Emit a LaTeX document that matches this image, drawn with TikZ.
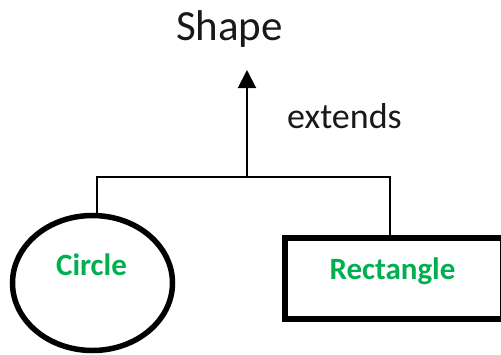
\documentclass[tikz,border=0pt]{standalone}
\usepackage{fontspec}
\setmainfont{Carlito}
\usetikzlibrary{shapes.geometric,arrows.meta}
\definecolor{wordgreen}{RGB}{0,176,80}
\tikzset{
  conn/.style={line width=2pt, draw=black},
  greentext/.style={font=\fontsize{31}{36}\selectfont\bfseries, text=wordgreen, inner sep=0pt, anchor=base},
  plaintext/.style={font=\fontsize{36}{42}\selectfont, text=black!90, inner sep=0pt},
}
\begin{document}
\begin{tikzpicture}[x=1pt,y=-1pt]
\useasboundingbox (0,0) rectangle (501,354);
\clip (0,0) rectangle (501,354);
% top class
\node[plaintext, font=\fontsize{43}{50}\selectfont, anchor=base] (shape) at (229.5,40) {Shape};
\node[plaintext, anchor=base west] (ext) at (287,128) {extends};
% subclasses
\node[ellipse, draw, line width=5.5pt, minimum width=160pt, minimum height=135pt, inner sep=0pt] (circ) at (92.5,283) {};
\node[greentext] (circtext) at (91.5,275) {Circle};
\node[rectangle, draw, line width=6pt, minimum width=218pt, minimum height=81pt, inner sep=0pt] (rect) at (394,278.5) {};
\node[greentext] (recttext) at (392.5,279) {Rectangle};
% connectors
\coordinate (junction) at (247,177);
\coordinate (tip) at (247,70);
\draw[conn] ([xshift=4.5pt]circ.north) |- (junction) -| ([xshift=-4pt]rect.north);
\draw[conn, -{Triangle[length=18pt,width=18pt]}] (junction) -- (tip);
\end{tikzpicture}
\end{document}
